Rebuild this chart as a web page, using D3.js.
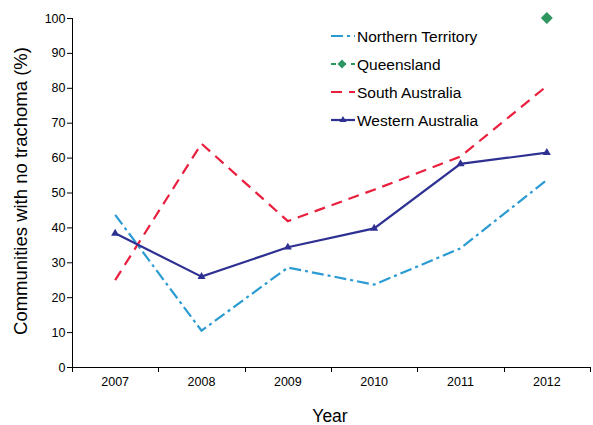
<!DOCTYPE html>
<html><head><meta charset="utf-8">
<script src="https://cdn.jsdelivr.net/npm/d3@7"></script>
<style>body{margin:0;background:#fff;font-family:"Liberation Sans",Arial,sans-serif;}</style>
</head><body><svg id="c" width="593" height="425"></svg>
<script>
const years = ["2007","2008","2009","2010","2011","2012"];
const yTicks = [0,10,20,30,40,50,60,70,80,90,100];
const northernTerritory = [43.6, 10.4, 28.5, 23.6, 34.0, 53.6];
const queensland = [null, null, null, null, null, 100];
const southAustralia = [24.9, 64.0, 41.8, 50.8, 60.3, 80.5];
const westernAustralia = [38.3, 25.9, 34.3, 39.7, 58.2, 61.4];

const series = [
  {name:"Northern Territory", values:northernTerritory, color:"#2b9bd3", dash:"12,4,3,4", legendDash:"12,4,3,4", marker:null},
  {name:"Queensland", values:queensland, color:"#2e9660", dash:"6,4", legendDash:"5,5", marker:"diamond"},
  {name:"South Australia", values:southAustralia, color:"#ea1f3e", dash:"11,7", legendDash:"11,7", marker:null},
  {name:"Western Australia", values:westernAustralia, color:"#2e3092", dash:null, legendDash:null, marker:"triangle"}
];

const svg = d3.select("#c");
const m = {l:72, r:590, t:18, b:367};
const x = d3.scaleBand().domain(years).range([m.l, m.r]);
const y = d3.scaleLinear().domain([0,100]).range([m.b, m.t]);
const FF = "Liberation Sans, Arial, sans-serif";

// y axis
const ya = svg.append("g").attr("transform",`translate(${m.l},0)`)
  .call(d3.axisLeft(y).tickValues(yTicks).tickSize(5).tickPadding(1.5));
ya.select(".domain").attr("d",`M0.5,${m.t}V${m.b}`).attr("stroke","#000");
ya.selectAll("text").attr("font-size","12.5px").attr("font-family",FF);

// x axis
const xa = svg.append("g").attr("transform",`translate(0,${m.b})`)
  .call(d3.axisBottom(x).tickSize(0).tickPadding(10));
xa.select(".domain").attr("d",`M${m.l},0.5H${m.r}`).attr("stroke","#000");
xa.selectAll("text").attr("font-size","12.5px").attr("font-family",FF);
const bounds = years.map(d=>x(d)).concat([x(years[years.length-1])+x.bandwidth()]);
xa.selectAll(".bt").data(bounds).enter().append("line")
  .attr("x1",d=>Math.round(d)+0.5).attr("x2",d=>Math.round(d)+0.5)
  .attr("y1",0).attr("y2",5).attr("stroke","#000");

// titles
svg.append("text").attr("x",330).attr("y",422).attr("text-anchor","middle")
  .attr("font-size","17.5px").attr("font-family",FF).text("Year");
svg.append("text").attr("transform","translate(27,191) rotate(-90)").attr("text-anchor","middle")
  .attr("font-size","18.5px").attr("font-family",FF).text("Communities with no trachoma (%)");

const cx = d => x(d) + x.bandwidth()/2;
const line = d3.line().defined(d=>d.v!=null).x(d=>cx(d.yr)).y(d=>y(d.v));

series.forEach(s=>{
  const pts = years.map((yr,i)=>({yr, v:s.values[i]}));
  svg.append("path").datum(pts).attr("d",line).attr("fill","none")
    .attr("stroke",s.color).attr("stroke-width",2.2)
    .attr("stroke-dasharray",s.dash);
  const mk = pts.filter(p=>p.v!=null);
  if(s.marker==="triangle"){
    svg.selectAll(null).data(mk).enter().append("path")
      .attr("d",d3.symbol(d3.symbolTriangle,28))
      .attr("transform",d=>`translate(${cx(d.yr)},${y(d.v)})`).attr("fill",s.color);
  } else if(s.marker==="diamond"){
    svg.selectAll(null).data(mk).enter().append("path")
      .attr("d",d3.symbol(d3.symbolSquare,72))
      .attr("transform",d=>`translate(${cx(d.yr)},${y(d.v)}) rotate(45)`).attr("fill",s.color);
  }
});

// legend
const lg = svg.append("g");
series.forEach((s,i)=>{
  const ly = 36 + i*28;
  lg.append("line").attr("x1",331).attr("x2",355).attr("y1",ly).attr("y2",ly)
    .attr("stroke",s.color).attr("stroke-width",2.2)
    .attr("stroke-dasharray", s.legendDash);
  if(s.marker==="diamond"){
    lg.append("path").attr("d",d3.symbol(d3.symbolSquare,40))
      .attr("transform",`translate(342,${ly}) rotate(45)`).attr("fill",s.color);
  } else if(s.marker==="triangle"){
    lg.append("path").attr("d",d3.symbol(d3.symbolTriangle,22))
      .attr("transform",`translate(343,${ly})`).attr("fill",s.color);
  }
  lg.append("text").attr("x",357).attr("y",ly+6).attr("font-size","15.5px").attr("font-family",FF).text(s.name);
});
</script></body></html>
